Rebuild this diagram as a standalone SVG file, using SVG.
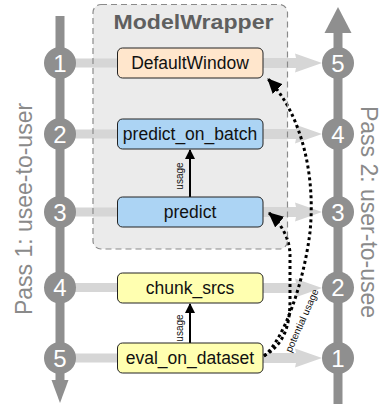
<svg xmlns="http://www.w3.org/2000/svg" width="383" height="404" viewBox="0 0 383 404">
  <style>
    .track { fill: #8f8f8f; }
    .step { fill: #8f8f8f; }
    .num { font-family: "Liberation Sans", Arial, sans-serif; font-size: 24px; fill: #ffffff; text-anchor: middle; }
    .link { fill: #d6d6d6; }
    .box { stroke: #222222; stroke-width: 1; }
    .lbl { font-family: "Liberation Sans", Arial, sans-serif; font-size: 17.5px; fill: #111111; text-anchor: middle; }
    .side { font-family: "Liberation Sans", Arial, sans-serif; font-size: 23px; fill: #8a8a8a; text-anchor: middle; }
    .small { font-family: "Liberation Sans", Arial, sans-serif; font-size: 10px; fill: #111111; text-anchor: middle; }
    .dotted { fill: none; stroke: #000000; stroke-width: 3; stroke-dasharray: 3 3; }
  </style>
  <defs>
    <marker id="solidHead" markerWidth="10" markerHeight="10" refX="9" refY="5" orient="auto" markerUnits="userSpaceOnUse">
      <path d="M0,0 L10,5 L0,10 Z" fill="#000000"/>
    </marker>
    <marker id="dotHead" markerWidth="16" markerHeight="16" refX="14" refY="8" orient="auto" markerUnits="userSpaceOnUse">
      <path d="M0,1 L15,8 L0,15 Z" fill="#000000"/>
    </marker>
  </defs>

  <!-- container -->
  <g id="modelwrapper">
    <rect x="93" y="4.5" width="194.5" height="244.5" rx="8" fill="#ebebeb"/>
    <text x="193.5" y="29" font-family="Liberation Sans, Arial, sans-serif" font-size="21" font-weight="bold" fill="#5f5f5f" text-anchor="middle" textLength="160" lengthAdjust="spacingAndGlyphs">ModelWrapper</text>
  </g>

  <!-- connectors -->
  <g id="connectors">
    <!-- pass tracks -->
    <rect class="track" x="55.5" y="16" width="9" height="366"/>
    <polygon class="track" points="51.5,380 68.5,380 60,403"/>
    <rect class="track" x="333.5" y="31" width="9" height="373"/>
    <polygon class="track" points="324.5,33 351.5,33 338,7"/>

    <!-- left links: pass 1 steps to functions -->
    <rect class="link" x="60" y="58.5" width="58" height="9"/>
    <rect class="link" x="60" y="129.5" width="58" height="9"/>
    <rect class="link" x="60" y="207.5" width="58" height="9"/>
    <rect class="link" x="60" y="283" width="58" height="9"/>
    <rect class="link" x="60" y="353.5" width="58" height="9"/>

    <!-- right links: functions to pass 2 steps -->
    <polygon class="link" points="263,58 296,58 295,53.5 322,63 295,72.5 296,68 263,68"/>
    <polygon class="link" points="263,129 296,129 295,124.5 322,134 295,143.5 296,139 263,139"/>
    <polygon class="link" points="263,207 296,207 295,202.5 322,212 295,221.5 296,217 263,217"/>
    <polygon class="link" points="263,283 296,283 295,278.5 322,288 295,297.5 296,293 263,293"/>
    <polygon class="link" points="263,353 296,353 295,348.5 322,358 295,367.5 296,363 263,363"/>

    <!-- usage arrows -->
    <line x1="190" y1="197" x2="190" y2="150" stroke="#000000" stroke-width="2" marker-end="url(#solidHead)"/>
    <text class="small" transform="translate(183,176) rotate(-90)">usage</text>
    <line x1="190" y1="343" x2="190" y2="304" stroke="#000000" stroke-width="2" marker-end="url(#solidHead)"/>
    <text class="small" transform="translate(183,328) rotate(-90)">usage</text>

    <!-- potential usage curves -->
    <path class="dotted" d="M264,356 C282,345 290,330 290,300 L290,255 C290,240 282,224 269,213" marker-end="url(#dotHead)"/>
    <path class="dotted" d="M264,356 C284,340 304,282 310,232 C316,172 300,112 268,79" marker-end="url(#dotHead)"/>
    <text class="small" font-size="10.5" transform="translate(305,322) rotate(-66)">potential usage</text>
  </g>

  <!-- dashed outline above the links -->
  <rect x="93" y="4.5" width="194.5" height="244.5" rx="8" fill="none" stroke="#8a8a8a" stroke-width="1.2" stroke-dasharray="6 4"/>

  <!-- functions -->
  <g id="defaultwindow">
    <rect class="box" x="117.5" y="48" width="145.5" height="30" rx="5" fill="#ffe6cc"/>
    <text class="lbl" x="190" y="69">DefaultWindow</text>
  </g>
  <g id="predict_on_batch">
    <rect class="box" x="117.5" y="119" width="145.5" height="30" rx="5" fill="#acd4f4"/>
    <text class="lbl" x="190" y="140">predict_on_batch</text>
  </g>
  <g id="predict">
    <rect class="box" x="117.5" y="197" width="145.5" height="30" rx="5" fill="#acd4f4"/>
    <text class="lbl" x="190" y="218">predict</text>
  </g>
  <g id="chunk_srcs">
    <rect class="box" x="117.5" y="273" width="145.5" height="30" rx="5" fill="#ffffb0"/>
    <text class="lbl" x="190" y="294">chunk_srcs</text>
  </g>
  <g id="eval_on_dataset">
    <rect class="box" x="117.5" y="343" width="145.5" height="30" rx="5" fill="#ffffb0"/>
    <text class="lbl" x="190" y="364">eval_on_dataset</text>
  </g>

  <!-- pass 1 steps -->
  <g id="pass1-step1"><circle class="step" cx="60" cy="63" r="16"/><text class="num" x="60" y="71.5">1</text></g>
  <g id="pass1-step2"><circle class="step" cx="60" cy="134" r="16"/><text class="num" x="60" y="142.5">2</text></g>
  <g id="pass1-step3"><circle class="step" cx="60" cy="212" r="16"/><text class="num" x="60" y="220.5">3</text></g>
  <g id="pass1-step4"><circle class="step" cx="60" cy="287.5" r="16"/><text class="num" x="60" y="296">4</text></g>
  <g id="pass1-step5"><circle class="step" cx="60" cy="358" r="16"/><text class="num" x="60" y="366.5">5</text></g>

  <!-- pass 2 steps -->
  <g id="pass2-step5"><circle class="step" cx="338" cy="63" r="16"/><text class="num" x="338" y="71.5">5</text></g>
  <g id="pass2-step4"><circle class="step" cx="338" cy="134" r="16"/><text class="num" x="338" y="142.5">4</text></g>
  <g id="pass2-step3"><circle class="step" cx="338" cy="212" r="16"/><text class="num" x="338" y="220.5">3</text></g>
  <g id="pass2-step2"><circle class="step" cx="338" cy="287.5" r="16"/><text class="num" x="338" y="296">2</text></g>
  <g id="pass2-step1"><circle class="step" cx="338" cy="358" r="16"/><text class="num" x="338" y="366.5">1</text></g>

  <!-- pass titles -->
  <text class="side" transform="translate(32,209) rotate(-90)">Pass 1: usee-to-user</text>
  <text class="side" transform="translate(361,212) rotate(90)">Pass 2: user-to-usee</text>
</svg>
